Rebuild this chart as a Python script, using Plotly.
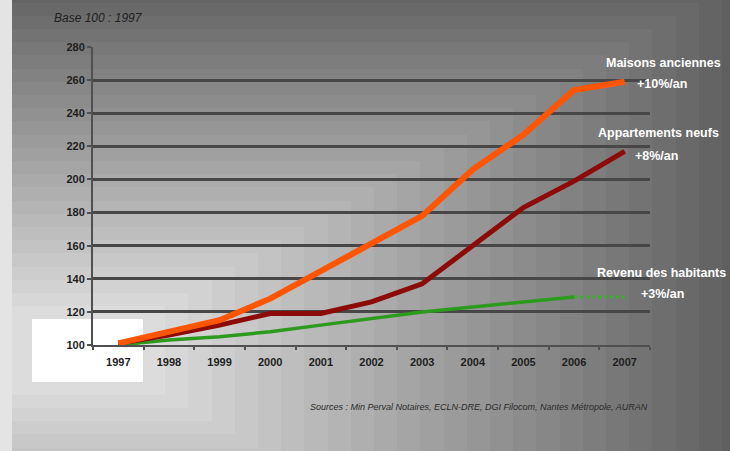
import base64
import struct
import zlib

import numpy as np
import plotly.graph_objects as go

# ---- data (index base 100 in 1997) ----
years = ["1997", "1998", "1999", "2000", "2001", "2002", "2003", "2004", "2005", "2006", "2007"]
maisons_anciennes = [101, 108, 115, 128, 145, 162, 178, 206, 227, 254, 259]
appartements_neufs = [101, 106, 112, 119, 119, 126, 137, 160, 183, 199, 217]
revenu_habitants = [100, 103, 105, 108, 112, 116, 120, 123, 126, 129, 129]

# ---- canvas geometry ----
W, H = 730, 451
L, R, T, B = 93, 80, 47, 106
PW, PH = W - L - R, H - T - B


def px(x, y):
    """Pixel position on the page -> paper coordinates."""
    return (x - L) / PW, (H - B - y) / PH


def gradient_png():
    """Grey corner gradient, white near the lower-left, dark toward the top-right."""
    xx, yy = np.meshgrid(np.arange(W), np.arange(H))
    cx, cy = 87, 350
    t = np.maximum(np.abs(xx - cx) / 580.0, np.abs(yy - cy) / 330.0)
    g = 218 - (t - 0.15) * 125
    g = np.where(t < 0.095, 255, g)
    g = np.floor(g / 5) * 5
    g = np.maximum(g, 94)
    g[:, :12] = 228
    g = np.clip(g, 0, 255).astype(np.uint8)
    raw = b"".join(b"\x00" + row.tobytes() for row in g)

    def chunk(tag, data):
        c = struct.pack(">I", len(data)) + tag + data
        return c + struct.pack(">I", zlib.crc32(tag + data) & 0xFFFFFFFF)

    png = b"\x89PNG\r\n\x1a\n"
    png += chunk(b"IHDR", struct.pack(">IIBBBBB", W, H, 8, 0, 0, 0, 0))
    png += chunk(b"IDAT", zlib.compress(raw, 9))
    png += chunk(b"IEND", b"")
    return "data:image/png;base64," + base64.b64encode(png).decode()


FONT = "Liberation Sans, Arial, sans-serif"

fig = go.Figure()

# income: solid up to 2006, dotted projection to 2007
fig.add_trace(go.Scatter(
    x=years[:10], y=revenu_habitants[:10], mode="lines",
    line=dict(color="#2c9a1c", width=3.5), hoverinfo="skip", showlegend=False))
fig.add_trace(go.Scatter(
    x=years[9:], y=revenu_habitants[9:], mode="lines",
    line=dict(color="#3bb02a", width=3, dash="dot"), hoverinfo="skip", showlegend=False))
fig.add_trace(go.Scatter(
    x=years, y=appartements_neufs, mode="lines",
    line=dict(color="#8c0a08", width=5), hoverinfo="skip", showlegend=False))
fig.add_trace(go.Scatter(
    x=years, y=maisons_anciennes, mode="lines",
    line=dict(color="#ff5500", width=6), hoverinfo="skip", showlegend=False))

annotations = []


def label(text, x, y, size=12.5, color="white", italic=False, bold=True, anchor="center"):
    ax, ay = px(x, y)
    style = "italic" if italic else "normal"
    annotations.append(dict(
        x=ax, y=ay, xref="paper", yref="paper", text=text, showarrow=False,
        xanchor=anchor, yanchor="middle",
        font=dict(family=FONT, size=size, color=color, style=style,
                  weight="bold" if bold else "normal")))


label("Maisons anciennes", 663, 63)
label("+10%/an", 662, 84)
label("Appartements neufs", 658, 133)
label("+8%/an", 657, 156)
label("Revenu des habitants", 661, 273)
label("+3%/an", 662, 294)
label("Base 100 : 1997", 52, 18, size=12, color="#202020", italic=True, bold=False, anchor="left")
label("Sources : Min Perval Notaires, ECLN-DRE, DGI Filocom, Nantes Métropole, AURAN",
      650, 407, size=9, color="#2a2a2a", italic=True, bold=False, anchor="right")

tick_font = dict(family=FONT, size=11, color="#1e1e1e", weight="bold")

fig.update_layout(
    width=W, height=H, autosize=False,
    margin=dict(l=L, r=R, t=T, b=B, pad=0),
    paper_bgcolor="#8a8a8a", plot_bgcolor="rgba(0,0,0,0)",
    showlegend=False,
    annotations=annotations,
    images=[dict(
        source=gradient_png(), xref="paper", yref="paper",
        x=-L / PW, y=1 + T / PH, sizex=W / PW, sizey=H / PH,
        xanchor="left", yanchor="top", sizing="stretch", layer="below")],
    xaxis=dict(
        type="category", categoryorder="array", categoryarray=years,
        range=[-0.5, 10.5], tickson="boundaries", ticks="outside", ticklen=3,
        tickcolor="#505050", tickwidth=1.5, ticklabelstandoff=6,
        showline=True, linecolor="#505050", linewidth=2, showgrid=False,
        tickfont=tick_font, fixedrange=True),
    yaxis=dict(
        range=[100, 280], dtick=20, tick0=100, showgrid=True,
        gridcolor="#474747", gridwidth=2.5, zeroline=False,
        showline=True, linecolor="#505050", linewidth=2,
        ticks="outside", ticklen=4, tickcolor="#505050", tickwidth=1.5,
        tickfont=tick_font, fixedrange=True),
)

fig.write_html("out.html")
